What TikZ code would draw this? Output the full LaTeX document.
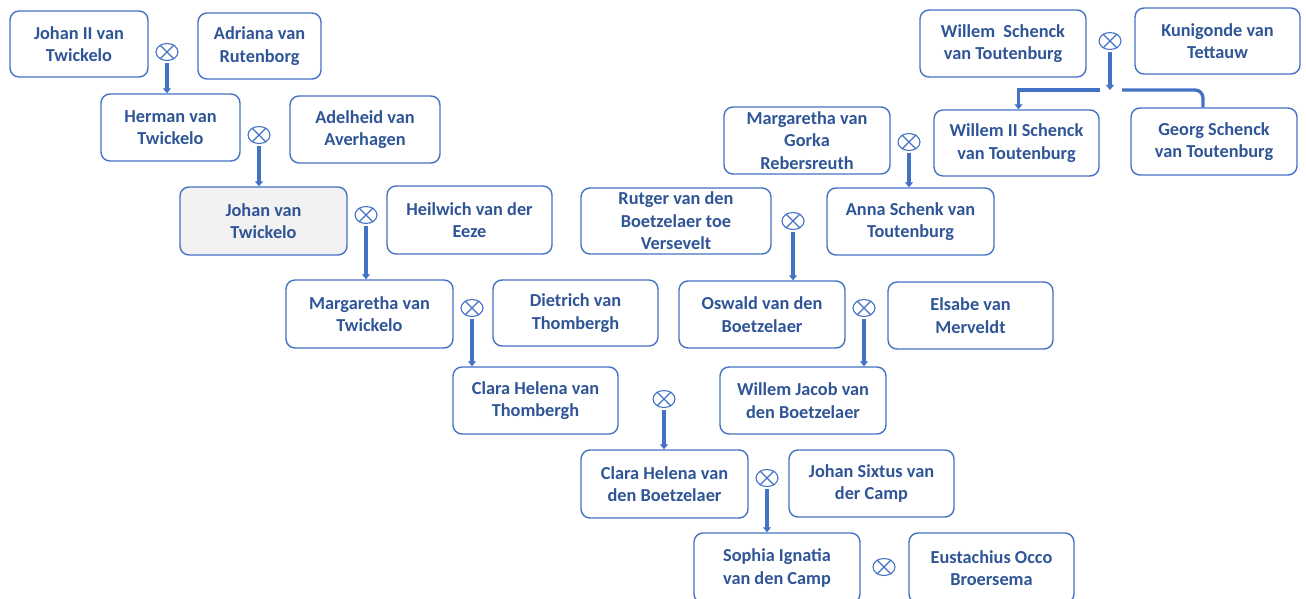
\documentclass[tikz,border=0pt]{standalone}
\usepackage{fontspec}
\setmainfont{Carlito}
\usetikzlibrary{shapes.geometric,arrows.meta}
\definecolor{txt}{RGB}{47,85,151}
\definecolor{ln}{RGB}{68,114,196}
\tikzset{
 pbox/.style={draw=ln, line width=1.4pt, rounded corners=9pt, fill=white, text=txt,
   font=\fontsize{18.3}{22.5}\selectfont\bfseries, align=center, inner sep=0pt},
 wed/.style={draw=ln, line width=1.1pt, ellipse, minimum width=22pt, minimum height=17pt, inner sep=0pt},
 conn/.style={draw=ln, line width=3.3pt},
 arr/.style={conn, -{Triangle[width=8pt,length=5pt]}},
}
\newcommand\wedsym[2]{\node[wed] (#1) at (#2) {};
  \draw[ln, line width=1.1pt] (#1.45) -- (#1.225) (#1.135) -- (#1.315);}
\begin{document}
\begin{tikzpicture}[x=1pt,y=-1pt]
\useasboundingbox (0,0) rectangle (1306,599);
% boxes
\node[pbox, minimum width=138, minimum height=66] (johanII) at (79,44) {Johan II van\\Twickelo};
\node[pbox, minimum width=123, minimum height=66] (adriana) at (259.5,46) {Adriana van\\Rutenborg};
\node[pbox, minimum width=139, minimum height=67] (herman) at (170.5,127.5) {Herman van\\Twickelo};
\node[pbox, minimum width=150, minimum height=67] (adelheid) at (365,129.5) {Adelheid van\\Averhagen};
\node[pbox, minimum width=167, minimum height=68, fill=black!5] (johan) at (263.5,221) {Johan van\\Twickelo};
\node[pbox, minimum width=165, minimum height=68] (heilwich) at (469.5,220) {Heilwich van der\\Eeze};
\node[pbox, minimum width=167, minimum height=68] (margT) at (369.5,314) {Margaretha van\\Twickelo};
\node[pbox, minimum width=165, minimum height=66] (dietrich) at (575.5,313) {Dietrich van\\Thombergh};
\node[pbox, minimum width=165, minimum height=67] (claraT) at (535.5,400.5) {Clara Helena van\\Thombergh};
\node[pbox, minimum width=167, minimum height=68] (claraB) at (664.5,484) {Clara Helena van\\den Boetzelaer};
\node[pbox, minimum width=165, minimum height=67] (sixtus) at (871.5,483.5) {Johan Sixtus van\\der Camp};
\node[pbox, minimum width=166, minimum height=70] (sophia) at (777,568) {Sophia Ignatia\\van den Camp};
\node[pbox, minimum width=165, minimum height=70] (eust) at (991.5,568) {Eustachius Occo\\Broersema};
\node[pbox, minimum width=166, minimum height=67] (willem) at (1003,43.5) {Willem\ \ Schenck\\van Toutenburg};
\node[pbox, minimum width=165, minimum height=66] (kuni) at (1217.5,41) {Kunigonde van\\Tettauw};
\node[pbox, minimum width=165, minimum height=66] (willemII) at (1016.5,143) {Willem II Schenck\\van Toutenburg};
\node[pbox, minimum width=166, minimum height=67] (georg) at (1214,141.5) {Georg Schenck\\van Toutenburg};
\node[pbox, minimum width=166, minimum height=67] (margG) at (807,140.5) {Margaretha van\\Gorka\\Rebersreuth};
\node[pbox, minimum width=167, minimum height=67] (anna) at (910.5,221.5) {Anna Schenk van\\Toutenburg};
\node[pbox, minimum width=190, minimum height=66] (rutger) at (676,221) {Rutger van den\\Boetzelaer toe\\Versevelt};
\node[pbox, minimum width=166, minimum height=67] (oswald) at (762,314.5) {Oswald van den\\Boetzelaer};
\node[pbox, minimum width=165, minimum height=67] (elsabe) at (970.5,315.5) {Elsabe van\\Merveldt};
\node[pbox, minimum width=166, minimum height=67] (wjacob) at (803,400.5) {Willem Jacob van\\den Boetzelaer};
% marriage symbols
\wedsym{mA}{167,52}
\wedsym{mB}{259,135}
\wedsym{mC}{366,215}
\wedsym{mD}{472,308}
\wedsym{mE}{664,399}
\wedsym{mF}{767,478}
\wedsym{mG}{884,567}
\wedsym{mH}{1110,41}
\wedsym{mI}{909,142}
\wedsym{mJ}{793,221}
\wedsym{mK}{864,308}
% descent arrows
\draw[arr, shorten <=2pt] (mA.south) -- (mA.south |- herman.north);
\draw[arr, shorten <=2pt] (mB.south) -- (mB.south |- johan.north);
\draw[arr, shorten <=2pt] (mC.south) -- (mC.south |- margT.north);
\draw[arr, shorten <=2pt] (mD.south) -- (mD.south |- claraT.north);
\draw[arr, shorten <=2pt] (mE.south) -- (mE.south |- claraB.north);
\draw[arr, shorten <=2pt] (mF.south) -- (mF.south |- sophia.north);
\draw[arr, shorten <=2pt] (mI.south) -- (mI.south |- anna.north);
\draw[arr, shorten <=2pt] (mJ.south) -- (mJ.south |- oswald.north);
\draw[arr, shorten <=2pt] (mK.south) -- (mK.south |- wjacob.north);
% Schenck branch
\coordinate (bm) at (1110,90);
\coordinate (bl) at (1100,90);
\coordinate (br) at (1122,90);
\coordinate[xshift=-11pt] (gt) at (georg.north);
\coordinate[xshift=2pt] (wt) at (willemII.north);
\draw[arr, shorten <=2pt] (mH.south) -- (bm);
\draw[arr] (bl) -| (wt);
\draw[conn, rounded corners=8pt] (br) -| (gt);
\end{tikzpicture}
\end{document}
